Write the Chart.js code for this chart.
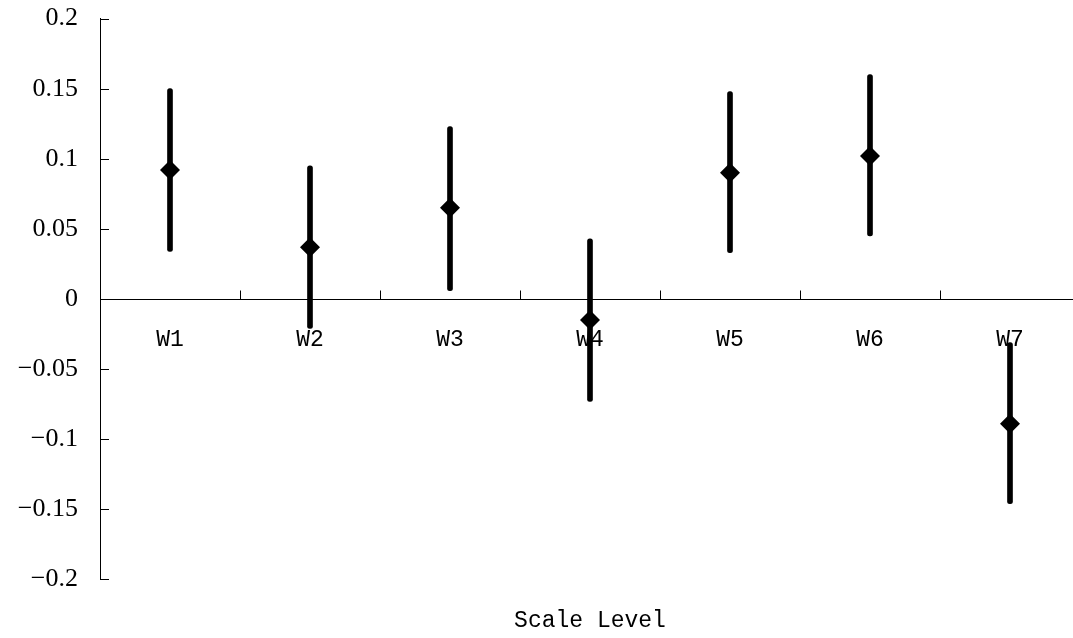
<!DOCTYPE html>
<html>
<head>
<meta charset="utf-8">
<script src="https://cdn.jsdelivr.net/npm/chart.js@4.4.1/dist/chart.umd.min.js"></script>
<style>
  html, body { margin: 0; padding: 0; background: #fff; overflow: hidden; }
  #chart { display: block; margin-top: -19px; }
</style>
</head>
<body>
<canvas id="chart" width="1090" height="657"></canvas>
<script>
var categories = ['W1', 'W2', 'W3', 'W4', 'W5', 'W6', 'W7'];
var means = [0.092, 0.037, 0.065, -0.015, 0.090, 0.102, -0.089];
var lower = [0.034, -0.021, 0.006, -0.073, 0.033, 0.045, -0.146];
var upper = [0.150, 0.095, 0.123, 0.043, 0.148, 0.160, -0.031];
var yTicks = [-0.2, -0.15, -0.1, -0.05, 0, 0.05, 0.1, 0.15, 0.2];

var errorBars = lower.map(function (l, i) { return [l, upper[i]]; });

// small inward tick marks on both axes
var tickMarks = {
  id: 'tickMarks',
  afterDraw: function (chart) {
    var ctx = chart.ctx;
    var xs = chart.scales.x, ys = chart.scales.y;
    var area = chart.chartArea;
    ctx.save();
    ctx.strokeStyle = '#000';
    ctx.lineWidth = 1;
    ctx.beginPath();
    ys.ticks.forEach(function (t) {
      var py = Math.round(ys.getPixelForValue(t.value)) + 0.5;
      ctx.moveTo(area.left, py);
      ctx.lineTo(area.left + 9, py);
    });
    var zero = Math.round(ys.getPixelForValue(0)) + 0.5;
    var half = (xs.getPixelForValue(1) - xs.getPixelForValue(0)) / 2;
    for (var i = 0; i < categories.length; i++) {
      var px = Math.round(xs.getPixelForValue(i) + half) + 0.5;
      ctx.moveTo(px, zero);
      ctx.lineTo(px, zero - 9);
    }
    ctx.stroke();
    ctx.restore();
  }
};

Chart.defaults.color = '#000';

new Chart(document.getElementById('chart').getContext('2d'), {
  data: {
    labels: categories,
    datasets: [{
      type: 'line',
      data: means,
      order: 0,
      showLine: false,
      pointStyle: 'rectRot',
      pointRadius: 10,
      pointBorderWidth: 0,
      borderColor: '#000',
      backgroundColor: '#000'
    }, {
      type: 'bar',
      data: errorBars,
      order: 1,
      barThickness: 5,
      backgroundColor: '#000',
      borderSkipped: false,
      borderRadius: 2.5
    }]
  },
  options: {
    responsive: false,
    animation: false,
    devicePixelRatio: 1,
    layout: { padding: { top: 0, right: 10, left: 0, bottom: 0 } },
    plugins: {
      legend: { display: false },
      tooltip: { enabled: false },
      title: {
        display: true,
        text: 'Scale Level',
        position: 'bottom',
        fullSize: false,
        color: '#000',
        font: { family: 'Liberation Mono', size: 23, weight: 'normal' },
        padding: { top: 28, bottom: 3 }
      }
    },
    scales: {
      x: {
        type: 'category',
        position: { y: 0 },
        offset: true,
        grid: { drawOnChartArea: false, drawTicks: false },
        border: { display: true, color: '#000', width: 1 },
        ticks: {
          autoSkip: false,
          maxRotation: 0,
          padding: 27,
          color: '#000',
          font: { family: 'Liberation Mono', size: 23 }
        }
      },
      y: {
        min: -0.2,
        max: 0.2,
        afterFit: function (s) { s.width = 100; },
        afterBuildTicks: function (s) {
          s.ticks = yTicks.map(function (v) { return { value: v }; });
        },
        grid: { drawOnChartArea: false, drawTicks: false },
        border: { display: true, color: '#000', width: 1 },
        ticks: {
          padding: 22,
          color: '#000',
          font: { family: 'Liberation Serif', size: 26 },
          callback: function (v) {
            var s = String(Math.round(v * 100) / 100);
            return s.replace('-', '\u2212');
          }
        }
      }
    }
  },
  plugins: [tickMarks]
});
</script>
</body>
</html>
